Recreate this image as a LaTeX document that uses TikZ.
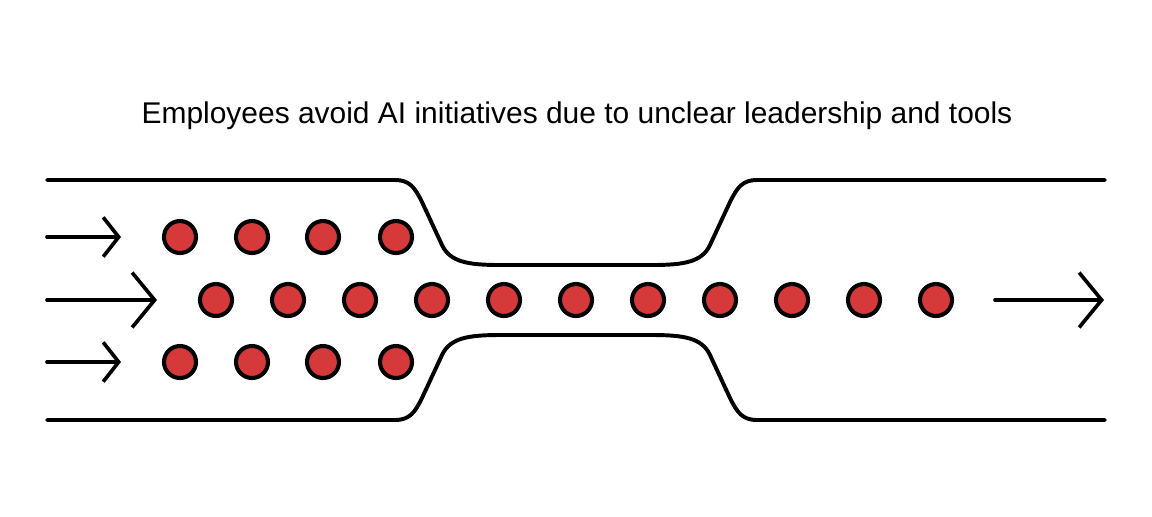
\documentclass[tikz,border=0pt]{standalone}
\usepackage{fontspec}
\setmainfont{Liberation Sans}
\usepackage{tikz}
\usetikzlibrary{arrows.meta}
\usepackage{xcolor}
\definecolor{dotred}{RGB}{214,57,57}

\begin{document}
\begin{tikzpicture}[x=0.025cm,y=-0.025cm,line cap=round,line join=round,
  wall/.style={line width=2.8pt},
  flow/.style={line width=2.6pt},
  dot/.style={circle,draw,line width=2.9pt,fill=dotred,minimum size=0.8cm,inner sep=0pt},
  smallhead/.style={-{Straight Barb[length=11pt,width=28pt,line width=2.6pt]}},
  bighead/.style={-{Straight Barb[length=16pt,width=39pt,line width=2.6pt]}}]
\useasboundingbox (0,0) rectangle (1152,516);
\node[anchor=base,font=\fontsize{21.3}{25}\selectfont] (title) at (577,123) {Employees avoid AI initiatives due to unclear leadership and tools};
% channel walls
\draw[wall] (47,180) -- (395,180) .. controls (410,180) and (415,188) .. (422,202) -- (442,245)
  .. controls (450,262) and (468,265) .. (500,265) -- (652,265)
  .. controls (684,265) and (702,262) .. (710,245) -- (730,202)
  .. controls (737,188) and (742,180) .. (757,180) -- (1105,180);
\draw[wall] (47,420) -- (395,420) .. controls (410,420) and (415,412) .. (422,398) -- (442,355)
  .. controls (450,338) and (468,335) .. (500,335) -- (652,335)
  .. controls (684,335) and (702,338) .. (710,355) -- (730,398)
  .. controls (737,412) and (742,420) .. (757,420) -- (1105,420);
% dots
\foreach \x [count=\i] in {180,252,323,396} {
  \node[dot] (top-\i) at (\x,237) {};
  \node[dot] (bot-\i) at (\x,362) {};
}
\foreach \i in {1,...,11}
  \node[dot] (mid-\i) at ({216+72*(\i-1)},300) {};
% arrows
\coordinate (in-top) at (47,237);   \coordinate (tip-top) at (121,237);
\coordinate (in-mid) at (47,300);   \coordinate (tip-mid) at (157,300);
\coordinate (in-bot) at (47,362);   \coordinate (tip-bot) at (121,362);
\coordinate (out-start) at (995,300); \coordinate (out-tip) at (1104,300);
\draw[flow,smallhead] (in-top) -- (tip-top);
\draw[flow,bighead] (in-mid) -- (tip-mid);
\draw[flow,smallhead] (in-bot) -- (tip-bot);
\draw[flow,bighead] (out-start) -- (out-tip);
\end{tikzpicture}
\end{document}
